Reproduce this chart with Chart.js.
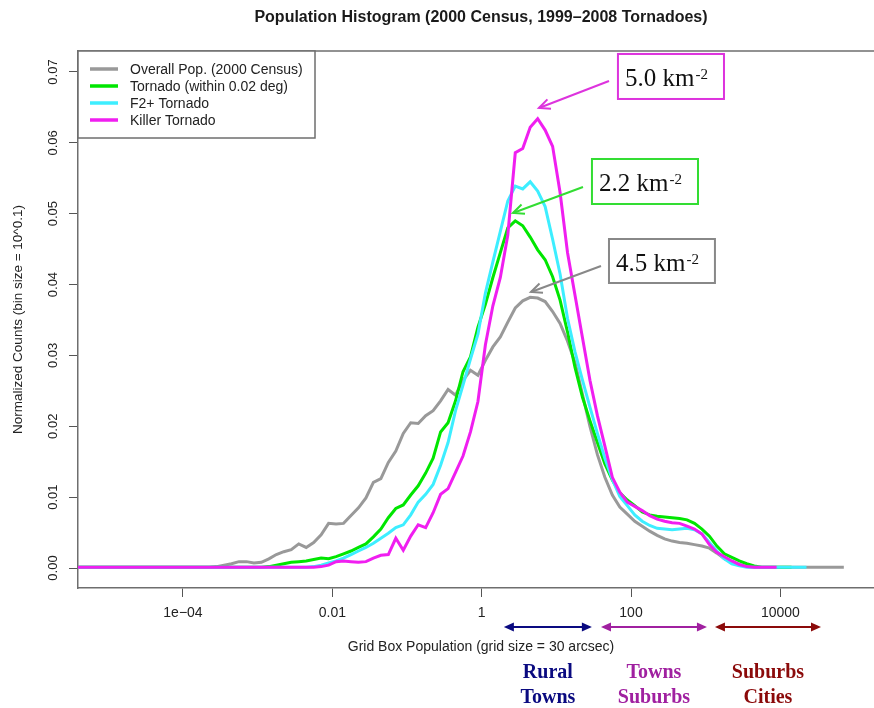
<!DOCTYPE html>
<html>
<head>
<meta charset="utf-8">
<script src="https://cdn.jsdelivr.net/npm/chart.js@4.4.1/dist/chart.umd.min.js"></script>
<style>
  html, body { margin: 0; padding: 0; background: #fff; overflow: hidden; }
  canvas { display: block; }
</style>
</head>
<body>
<canvas id="popChart" width="884" height="708"></canvas>
<script>
// log10 of the bin centres (bin size = 10^0.1)
const binLog10 = [
  -5.45,
  -5.35, -5.25, -5.15, -5.05, -4.95, -4.85, -4.75, -4.65, -4.55, -4.45,
  -4.35, -4.25, -4.15, -4.05, -3.95, -3.85, -3.75, -3.65, -3.55, -3.45,
  -3.35, -3.25, -3.15, -3.05, -2.95, -2.85, -2.75, -2.65, -2.55, -2.45,
  -2.35, -2.25, -2.15, -2.05, -1.95, -1.85, -1.75, -1.65, -1.55, -1.45,
  -1.35, -1.25, -1.15, -1.05, -0.95, -0.85, -0.75, -0.65, -0.55, -0.45,
  -0.35, -0.25, -0.15, -0.05, 0.05, 0.15, 0.25, 0.35, 0.45, 0.55,
  0.65, 0.75, 0.85, 0.95, 1.05, 1.15, 1.25, 1.35, 1.45, 1.55,
  1.65, 1.75, 1.85, 1.95, 2.05, 2.15, 2.25, 2.35, 2.45, 2.55,
  2.65, 2.75, 2.85, 2.95, 3.05, 3.15, 3.25, 3.35, 3.45, 3.55,
  3.65, 3.75, 3.85, 3.95, 4.05, 4.15, 4.25, 4.35, 4.45, 4.55,
  4.65, 4.75, 4.85
];

const overallPop = [
  0.0001,
  0.0001, 0.0001, 0.0001, 0.0001, 0.0001, 0.0001, 0.0001, 0.0001, 0.0001, 0.0001,
  0.0001, 0.0001, 0.0001, 0.0001, 0.0001, 0.0001, 0.0001, 0.0001, 0.0002, 0.0004,
  0.0006, 0.0009, 0.0009, 0.0007, 0.0008, 0.0013, 0.0019, 0.0023, 0.0026, 0.0034,
  0.0029, 0.0036, 0.0047, 0.0063, 0.0062, 0.0063, 0.0074, 0.0085, 0.0099, 0.0121,
  0.0126, 0.0149, 0.0165, 0.0190, 0.0205, 0.0204, 0.0215, 0.0222, 0.0236, 0.0252,
  0.0244, 0.0265, 0.0279, 0.0272, 0.0293, 0.0312, 0.0326, 0.0347, 0.0367, 0.0377,
  0.0382, 0.0381, 0.0376, 0.0362, 0.0345, 0.0320, 0.0290, 0.0245, 0.0200, 0.0160,
  0.0128, 0.0103, 0.0086, 0.0076, 0.0066, 0.0059, 0.0052, 0.0046, 0.0041, 0.0038,
  0.0036, 0.0035, 0.0033, 0.0031, 0.0028, 0.0021, 0.0013, 0.0008, 0.0005, 0.0002,
  0.0001, 0.0001, 0.0001, 0.0001, 0.0001, 0.0001, 0.0001, 0.0001, 0.0001, 0.0001,
  0.0001, 0.0001, 0.0001
];

const tornadoAll = [
  0.0001,
  0.0001, 0.0001, 0.0001, 0.0001, 0.0001, 0.0001, 0.0001, 0.0001, 0.0001, 0.0001,
  0.0001, 0.0001, 0.0001, 0.0001, 0.0001, 0.0001, 0.0001, 0.0001, 0.0001, 0.0001,
  0.0001, 0.0001, 0.0001, 0.0001, 0.0001, 0.0002, 0.0004, 0.0006, 0.0008, 0.0009,
  0.0010, 0.0012, 0.0014, 0.0013, 0.0016, 0.0020, 0.0024, 0.0029, 0.0034, 0.0044,
  0.0055, 0.0071, 0.0084, 0.0089, 0.0103, 0.0116, 0.0134, 0.0155, 0.0192, 0.0205,
  0.0236, 0.0277, 0.0298, 0.0340, 0.0372, 0.0410, 0.0445, 0.0480, 0.0490, 0.0483,
  0.0467, 0.0449, 0.0435, 0.0411, 0.0378, 0.0333, 0.0283, 0.0241, 0.0208, 0.0177,
  0.0147, 0.0124, 0.0106, 0.0096, 0.0088, 0.0079, 0.0075, 0.0073, 0.0072, 0.0071,
  0.0070, 0.0068, 0.0063, 0.0055, 0.0045, 0.0031, 0.0020, 0.0015, 0.0010, 0.0006,
  0.0003, 0.0001, 0.0001, 0.0001, 0.0001, 0.0001, null, null, null, null,
  null, null, null
];

const tornadoF2 = [
  0.0001,
  0.0001, 0.0001, 0.0001, 0.0001, 0.0001, 0.0001, 0.0001, 0.0001, 0.0001, 0.0001,
  0.0001, 0.0001, 0.0001, 0.0001, 0.0001, 0.0001, 0.0001, 0.0001, 0.0001, 0.0001,
  0.0001, 0.0001, 0.0001, 0.0001, 0.0001, 0.0001, 0.0001, 0.0001, 0.0001, 0.0001,
  0.0001, 0.0002, 0.0004, 0.0007, 0.0010, 0.0014, 0.0019, 0.0024, 0.0029, 0.0035,
  0.0042, 0.0049, 0.0057, 0.0061, 0.0075, 0.0093, 0.0104, 0.0118, 0.0145, 0.0177,
  0.0222, 0.0258, 0.0295, 0.0330, 0.0388, 0.0432, 0.0475, 0.0518, 0.0539, 0.0535,
  0.0545, 0.0532, 0.0510, 0.0464, 0.0415, 0.0352, 0.0305, 0.0265, 0.0227, 0.0190,
  0.0155, 0.0125, 0.0101, 0.0088, 0.0075, 0.0066, 0.0060, 0.0056, 0.0055, 0.0054,
  0.0055, 0.0056, 0.0054, 0.0048, 0.0036, 0.0024, 0.0013, 0.0006, 0.0003, 0.0001,
  0.0001, 0.0001, 0.0001, 0.0001, 0.0001, 0.0001, 0.0001, 0.0001, null, null,
  null, null, null
];

const tornadoKiller = [
  0.0001,
  0.0001, 0.0001, 0.0001, 0.0001, 0.0001, 0.0001, 0.0001, 0.0001, 0.0001, 0.0001,
  0.0001, 0.0001, 0.0001, 0.0001, 0.0001, 0.0001, 0.0001, 0.0001, 0.0001, 0.0001,
  0.0001, 0.0001, 0.0001, 0.0001, 0.0001, 0.0001, 0.0001, 0.0001, 0.0001, 0.0001,
  0.0001, 0.0001, 0.0002, 0.0004, 0.0009, 0.0010, 0.0009, 0.0008, 0.0009, 0.0014,
  0.0018, 0.0019, 0.0042, 0.0025, 0.0045, 0.0061, 0.0057, 0.0078, 0.0104, 0.0112,
  0.0135, 0.0158, 0.0192, 0.0235, 0.0315, 0.0370, 0.0410, 0.0470, 0.0586, 0.0592,
  0.0622, 0.0634, 0.0618, 0.0595, 0.0530, 0.0445, 0.0385, 0.0325, 0.0265, 0.0215,
  0.0172, 0.0128, 0.0107, 0.0093, 0.0087, 0.0081, 0.0074, 0.0069, 0.0066, 0.0064,
  0.0063, 0.0059, 0.0055, 0.0048, 0.0033, 0.0022, 0.0016, 0.0010, 0.0005, 0.0002,
  0.0001, 0.0001, 0.0001, 0.0001, null, null, null, null, null, null,
  null, null, null
];

const seriesNames = ['Overall Pop. (2000 Census)', 'Tornado (within 0.02 deg)', 'F2+ Tornado', 'Killer Tornado'];
const seriesColors = ['#999999', '#00e600', '#3deeff', '#f01ef0'];
const seriesValues = [overallPop, tornadoAll, tornadoF2, tornadoKiller];

const xTickValues = [1e-4, 1e-2, 1, 100, 1e4];
const xTickLabels = ['1e\u221204', '0.01', '1', '100', '10000'];
const yTickValues = [0, 0.01, 0.02, 0.03, 0.04, 0.05, 0.06, 0.07];
const yTickLabels = ['0.00', '0.01', '0.02', '0.03', '0.04', '0.05', '0.06', '0.07'];

const chartTitle = 'Population Histogram (2000 Census, 1999\u20132008 Tornadoes)';
const xTitle = 'Grid Box Population (grid size = 30 arcsec)';
const yTitle = 'Normalized Counts (bin size = 10^0.1)';

// peak annotations: box [logLeft, logRight, yTop, yBottom], arrow from -> to as [log10 x, y]
const peakNotes = [
  { text: '5.0 km', sup: '-2', color: '#dd33dd', box: [1.825, 3.245, 0.07254, 0.06619], from: [1.705, 0.06873], to: [0.767, 0.06492] },
  { text: '2.2 km', sup: '-2', color: '#33dd33', box: [1.477, 2.897, 0.05772, 0.05137], from: [1.357, 0.05377], to: [0.419, 0.0501] },
  { text: '4.5 km', sup: '-2', color: '#888888', box: [1.705, 3.124, 0.04643, 0.04022], from: [1.598, 0.04262], to: [0.660, 0.03895] }
];

// settlement classes along the x axis (log10 ranges)
const zones = [
  { lines: ['Rural', 'Towns'], color: '#0a0a80', from: 0.297, to: 1.476 },
  { lines: ['Towns', 'Suburbs'], color: '#a020a0', from: 1.598, to: 3.017 },
  { lines: ['Suburbs', 'Cities'], color: '#8b0a0a', from: 3.124, to: 4.544 }
];

const xLogMin = -5.406;
const xLogMax = 5.388;
const frameColor = '#6e6e6e';
const sans = '"Liberation Sans", Arial, Helvetica, sans-serif';
const serif = '"Liberation Serif", "Times New Roman", serif';

function toPoints(values) {
  return binLog10.map((lg, i) => ({ x: Math.pow(10, lg), y: values[i] }));
}

function drawArrowHead(ctx, x0, y0, x1, y1, len, half, filled) {
  const ang = Math.atan2(y1 - y0, x1 - x0);
  const bx = x1 - len * Math.cos(ang);
  const by = y1 - len * Math.sin(ang);
  const px = -Math.sin(ang) * half;
  const py = Math.cos(ang) * half;
  ctx.beginPath();
  ctx.moveTo(bx + px, by + py);
  ctx.lineTo(x1, y1);
  ctx.lineTo(bx - px, by - py);
  if (filled) {
    ctx.closePath();
    ctx.fill();
  } else {
    ctx.stroke();
  }
}

const decorations = {
  id: 'decorations',
  afterDraw(chart) {
    const { ctx, chartArea: area, scales } = chart;
    const xs = scales.x;
    const ys = scales.y;
    ctx.save();

    // top side of the plot frame
    ctx.strokeStyle = frameColor;
    ctx.lineWidth = 1.5;
    ctx.beginPath();
    ctx.moveTo(area.left, area.top);
    ctx.lineTo(area.right, area.top);
    ctx.stroke();

    // main title
    ctx.fillStyle = '#1a1a1a';
    ctx.font = 'bold 16px ' + sans;
    ctx.textAlign = 'center';
    ctx.textBaseline = 'middle';
    ctx.fillText(chartTitle, (area.left + area.right) / 2, 18);

    // legend box in the top-left corner
    ctx.fillStyle = '#fff';
    ctx.fillRect(area.left, area.top, 237, 87);
    ctx.strokeStyle = frameColor;
    ctx.lineWidth = 1.5;
    ctx.strokeRect(area.left, area.top, 237, 87);
    ctx.font = '14px ' + sans;
    ctx.textAlign = 'left';
    ctx.textBaseline = 'middle';
    chart.data.datasets.forEach((ds, i) => {
      const ly = area.top + 18 + i * 17;
      ctx.strokeStyle = ds.borderColor;
      ctx.lineWidth = 3.5;
      ctx.beginPath();
      ctx.moveTo(area.left + 12, ly);
      ctx.lineTo(area.left + 40, ly);
      ctx.stroke();
      ctx.fillStyle = '#222';
      ctx.fillText(ds.label, area.left + 52, ly + 1);
    });

    // peak annotations
    peakNotes.forEach(n => {
      const bx0 = xs.getPixelForValue(Math.pow(10, n.box[0]));
      const bx1 = xs.getPixelForValue(Math.pow(10, n.box[1]));
      const by0 = ys.getPixelForValue(n.box[2]);
      const by1 = ys.getPixelForValue(n.box[3]);
      ctx.fillStyle = '#fff';
      ctx.fillRect(bx0, by0, bx1 - bx0, by1 - by0);
      ctx.strokeStyle = n.color;
      ctx.lineWidth = 2;
      ctx.strokeRect(bx0, by0, bx1 - bx0, by1 - by0);

      ctx.fillStyle = '#111';
      ctx.textAlign = 'left';
      ctx.textBaseline = 'alphabetic';
      ctx.font = '25px ' + serif;
      const tx = bx0 + 7;
      const ty = (by0 + by1) / 2 + 10;
      ctx.fillText(n.text, tx, ty);
      const w = ctx.measureText(n.text).width;
      ctx.font = '15px ' + serif;
      ctx.fillText(n.sup, tx + w + 1, ty - 7);

      const ax0 = xs.getPixelForValue(Math.pow(10, n.from[0]));
      const ay0 = ys.getPixelForValue(n.from[1]);
      const ax1 = xs.getPixelForValue(Math.pow(10, n.to[0]));
      const ay1 = ys.getPixelForValue(n.to[1]);
      ctx.strokeStyle = n.color;
      ctx.lineWidth = 2;
      ctx.beginPath();
      ctx.moveTo(ax0, ay0);
      ctx.lineTo(ax1, ay1);
      ctx.stroke();
      drawArrowHead(ctx, ax0, ay0, ax1, ay1, 11, 5, false);
    });

    // settlement class arrows and labels under the axis
    const zy = area.bottom + 39;
    zones.forEach(z => {
      const zx0 = xs.getPixelForValue(Math.pow(10, z.from));
      const zx1 = xs.getPixelForValue(Math.pow(10, z.to));
      ctx.strokeStyle = z.color;
      ctx.fillStyle = z.color;
      ctx.lineWidth = 2;
      ctx.beginPath();
      ctx.moveTo(zx0 + 4, zy);
      ctx.lineTo(zx1 - 4, zy);
      ctx.stroke();
      drawArrowHead(ctx, zx1 - 10, zy, zx1, zy, 10, 4.5, true);
      drawArrowHead(ctx, zx0 + 10, zy, zx0, zy, 10, 4.5, true);
      ctx.font = 'bold 20px ' + serif;
      ctx.textAlign = 'center';
      ctx.textBaseline = 'middle';
      const cx = (zx0 + zx1) / 2;
      ctx.fillText(z.lines[0], cx, area.bottom + 85);
      ctx.fillText(z.lines[1], cx, area.bottom + 110);
    });

    ctx.restore();
  }
};

const ctx = document.getElementById('popChart');

new Chart(ctx, {
  type: 'line',
  data: {
    datasets: seriesValues.map((vals, i) => ({
      label: seriesNames[i],
      data: toPoints(vals),
      borderColor: seriesColors[i],
      backgroundColor: seriesColors[i],
      borderWidth: 3,
      pointRadius: 0,
      tension: 0,
      spanGaps: false,
      order: seriesValues.length - i // killer tornado drawn last, on top
    }))
  },
  options: {
    responsive: false,
    animation: false,
    parsing: true,
    layout: { padding: { left: 0, right: 0, top: 51, bottom: 50 } },
    plugins: {
      legend: { display: false },
      tooltip: { enabled: false }
    },
    scales: {
      x: {
        type: 'logarithmic',
        min: Math.pow(10, xLogMin),
        max: Math.pow(10, xLogMax),
        afterBuildTicks: axis => { axis.ticks = xTickValues.map(v => ({ value: v })); },
        afterFit: axis => { axis.height = 70; },
        ticks: {
          autoSkip: false,
          minRotation: 0,
          maxRotation: 0,
          padding: 8,
          color: '#222',
          font: { family: sans, size: 14 },
          callback: (v, i) => xTickLabels[i]
        },
        grid: { drawOnChartArea: false, drawTicks: true, tickLength: 9, color: '#555', lineWidth: 1 },
        border: { display: true, color: frameColor, width: 1.5 },
        title: { display: true, text: xTitle, color: '#222', font: { family: sans, size: 14 }, padding: { top: 0, bottom: 2 } }
      },
      y: {
        type: 'linear',
        min: -0.00282,
        max: 0.07296,
        afterBuildTicks: axis => { axis.ticks = yTickValues.map(v => ({ value: v })); },
        afterFit: axis => { axis.width = 78; },
        ticks: {
          autoSkip: false,
          minRotation: 90,
          maxRotation: 90,
          crossAlign: 'center',
          padding: 3,
          color: '#222',
          font: { family: sans, size: 13 },
          callback: (v, i) => yTickLabels[i]
        },
        grid: { drawOnChartArea: false, drawTicks: true, tickLength: 9, color: '#555', lineWidth: 1 },
        border: { display: true, color: frameColor, width: 1.5 },
        title: { display: true, text: yTitle, color: '#222', font: { family: sans, size: 13.5 }, padding: { top: 10, bottom: 0 } }
      }
    }
  },
  plugins: [decorations]
});
</script>
</body>
</html>
